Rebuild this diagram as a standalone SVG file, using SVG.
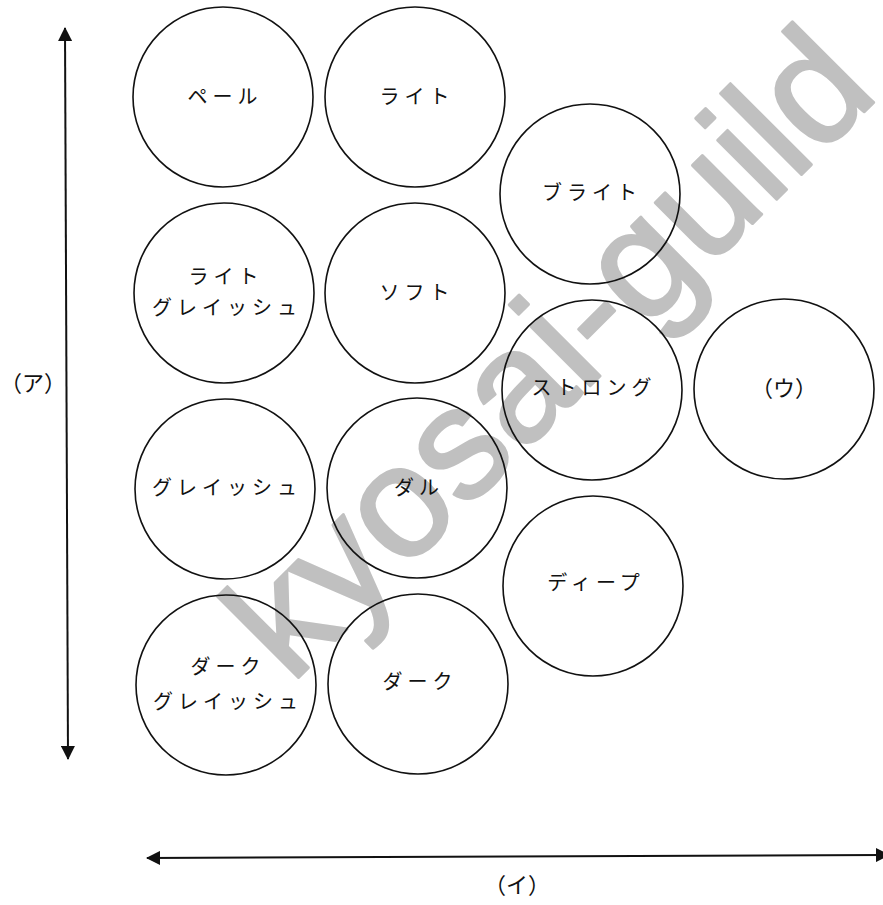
<svg xmlns="http://www.w3.org/2000/svg" width="883" height="905" viewBox="0 0 883 905">
  <style>
    .c { fill: none; stroke: #111; stroke-width: 1.6; }
    .t { font-family: "Noto Sans CJK JP", "Noto Sans", sans-serif; font-size: 20px; fill: #111; text-anchor: middle; letter-spacing: 5px; }
    .p { font-family: "Noto Sans CJK JP", "Noto Sans", sans-serif; font-size: 22px; fill: #111; text-anchor: middle; }
    .ax { stroke: #111; stroke-width: 2; fill: none; }
    .wm { font-family: "Liberation Sans", Arial, sans-serif; font-size: 158px; fill: #c0c0c0; stroke: #c0c0c0; stroke-width: 3; stroke-linejoin: round; }
  </style>
  <defs>
    <marker id="ah" viewBox="0 0 14 14" refX="13" refY="7" markerWidth="14" markerHeight="14" markerUnits="userSpaceOnUse" orient="auto-start-reverse">
      <path d="M0,0 L14,7 L0,14 Z" fill="#111"/>
    </marker>
  </defs>
  <rect width="883" height="905" fill="#fff"/>
  <text class="wm" transform="translate(291,685) rotate(-45)">kyosai-guild</text>

  <g id="connectors">
    <line class="ax" x1="65" y1="28" x2="68" y2="759" marker-start="url(#ah)" marker-end="url(#ah)"/>
    <line class="ax" x1="147" y1="858" x2="889" y2="855" marker-start="url(#ah)" marker-end="url(#ah)"/>
  </g>

  <g id="label-a"><text class="p" x="0" y="391" style="text-anchor:start">（ア）</text></g>
  <g id="label-i"><text class="p" x="517" y="893">（イ）</text></g>

  <g id="pale"><circle class="c" cx="223" cy="97" r="90"/><text class="t" x="225" y="104">ペール</text></g>
  <g id="light"><circle class="c" cx="415" cy="97" r="90"/><text class="t" x="417" y="104">ライト</text></g>
  <g id="bright"><circle class="c" cx="590" cy="194" r="90"/><text class="t" x="592" y="200">ブライト</text></g>
  <g id="light-grayish"><circle class="c" cx="224" cy="293" r="90"/><text class="t" x="226" y="284">ライト</text><text class="t" x="227" y="315">グレイッシュ</text></g>
  <g id="soft"><circle class="c" cx="415" cy="293" r="90"/><text class="t" x="417" y="300">ソフト</text></g>
  <g id="strong"><circle class="c" cx="592" cy="390" r="90"/><text class="t" x="594" y="395">ストロング</text></g>
  <g id="u"><circle class="c" cx="784" cy="389" r="90"/><text class="p" x="784" y="396">（ウ）</text></g>
  <g id="grayish"><circle class="c" cx="225" cy="489" r="90"/><text class="t" x="227" y="495">グレイッシュ</text></g>
  <g id="dull"><circle class="c" cx="417" cy="488" r="90"/><text class="t" x="419" y="495">ダル</text></g>
  <g id="deep"><circle class="c" cx="593" cy="586" r="90"/><text class="t" x="596" y="590">ディープ</text></g>
  <g id="dark-grayish"><circle class="c" cx="226" cy="685" r="90"/><text class="t" x="228" y="674">ダーク</text><text class="t" x="228" y="709">グレイッシュ</text></g>
  <g id="dark"><circle class="c" cx="418" cy="684" r="90"/><text class="t" x="420" y="689">ダーク</text></g>
</svg>
